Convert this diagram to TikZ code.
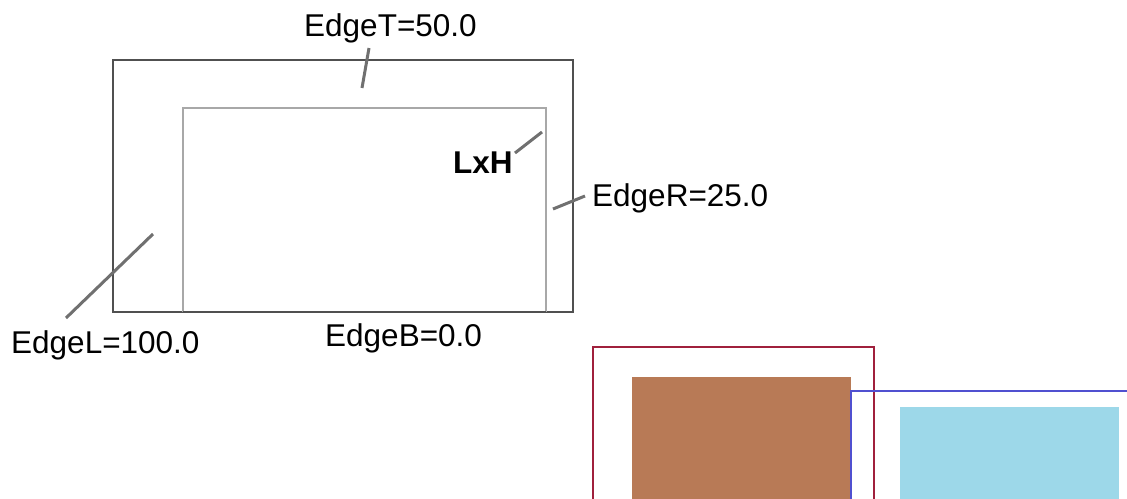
\documentclass[tikz,border=0pt]{standalone}
\usepackage{fontspec}
\setmainfont{Liberation Sans}
\usepackage{xcolor}
\definecolor{framegray}{HTML}{505050}
\definecolor{innergray}{HTML}{A8A8A8}
\definecolor{leadergray}{HTML}{707070}
\definecolor{boxred}{HTML}{A0203C}
\definecolor{boxblue}{HTML}{5050D0}
\definecolor{boxbrown}{HTML}{B87A56}
\definecolor{boxcyan}{HTML}{9DD8E9}
\tikzstyle{edgelabel} = [inner sep=0pt, anchor=base west, text=black, font=\fontsize{31.5}{38}\selectfont]
\tikzstyle{leader} = [line width=3pt, draw=leadergray]
\tikzstyle{outerframe} = [line width=2pt, draw=framegray]
\tikzstyle{innerframe} = [line width=1.5pt, draw=innergray]

\begin{document}
\begin{tikzpicture}[x=1pt, y=-1pt]
    \useasboundingbox (0,0) rectangle (1127,498);
    \clip (0,0) rectangle (1127,498);
    % margins
    \draw [outerframe] (113,60) rectangle (573,312);
    \draw [innerframe] (183,312) -- (183,108) -- (546,108) -- (546,312);
    \draw [outerframe] (183,312) -- (546,312);

    \node (edgeT) [edgelabel] at (304,36) {EdgeT=50.0};
    \node (lxh) [edgelabel, font=\fontsize{31.5}{38}\selectfont\bfseries] at (453,173) {LxH};
    \node (edgeR) [edgelabel] at (592,206) {EdgeR=25.0};
    \node (edgeL) [edgelabel] at (11,353) {EdgeL=100.0};
    \node (edgeB) [edgelabel] at (325,346) {EdgeB=0.0};

    \coordinate (edgeT-a) at (369,48);  \coordinate (edgeT-b) at (362,88);
    \coordinate (lxh-a) at (515,153);   \coordinate (lxh-b) at (542,132);
    \coordinate (edgeR-a) at (585,196); \coordinate (edgeR-b) at (553,209);
    \coordinate (edgeL-a) at (66,318);  \coordinate (edgeL-b) at (153,234);

    \foreach \i in {edgeT, lxh, edgeR, edgeL} {
        \draw [leader] (\i-a) -- (\i-b);
    }

    % boxes below
    \draw [line width=2pt, draw=boxred] (593,347) rectangle (874,520);
    \fill [boxbrown] (632,377) rectangle (851,520);
    \draw [line width=1.5pt, draw=boxblue] (851,520) -- (851,391) -- (1140,391);
    \fill [boxcyan] (900,407) rectangle (1119,520);
\end{tikzpicture}
\end{document}
